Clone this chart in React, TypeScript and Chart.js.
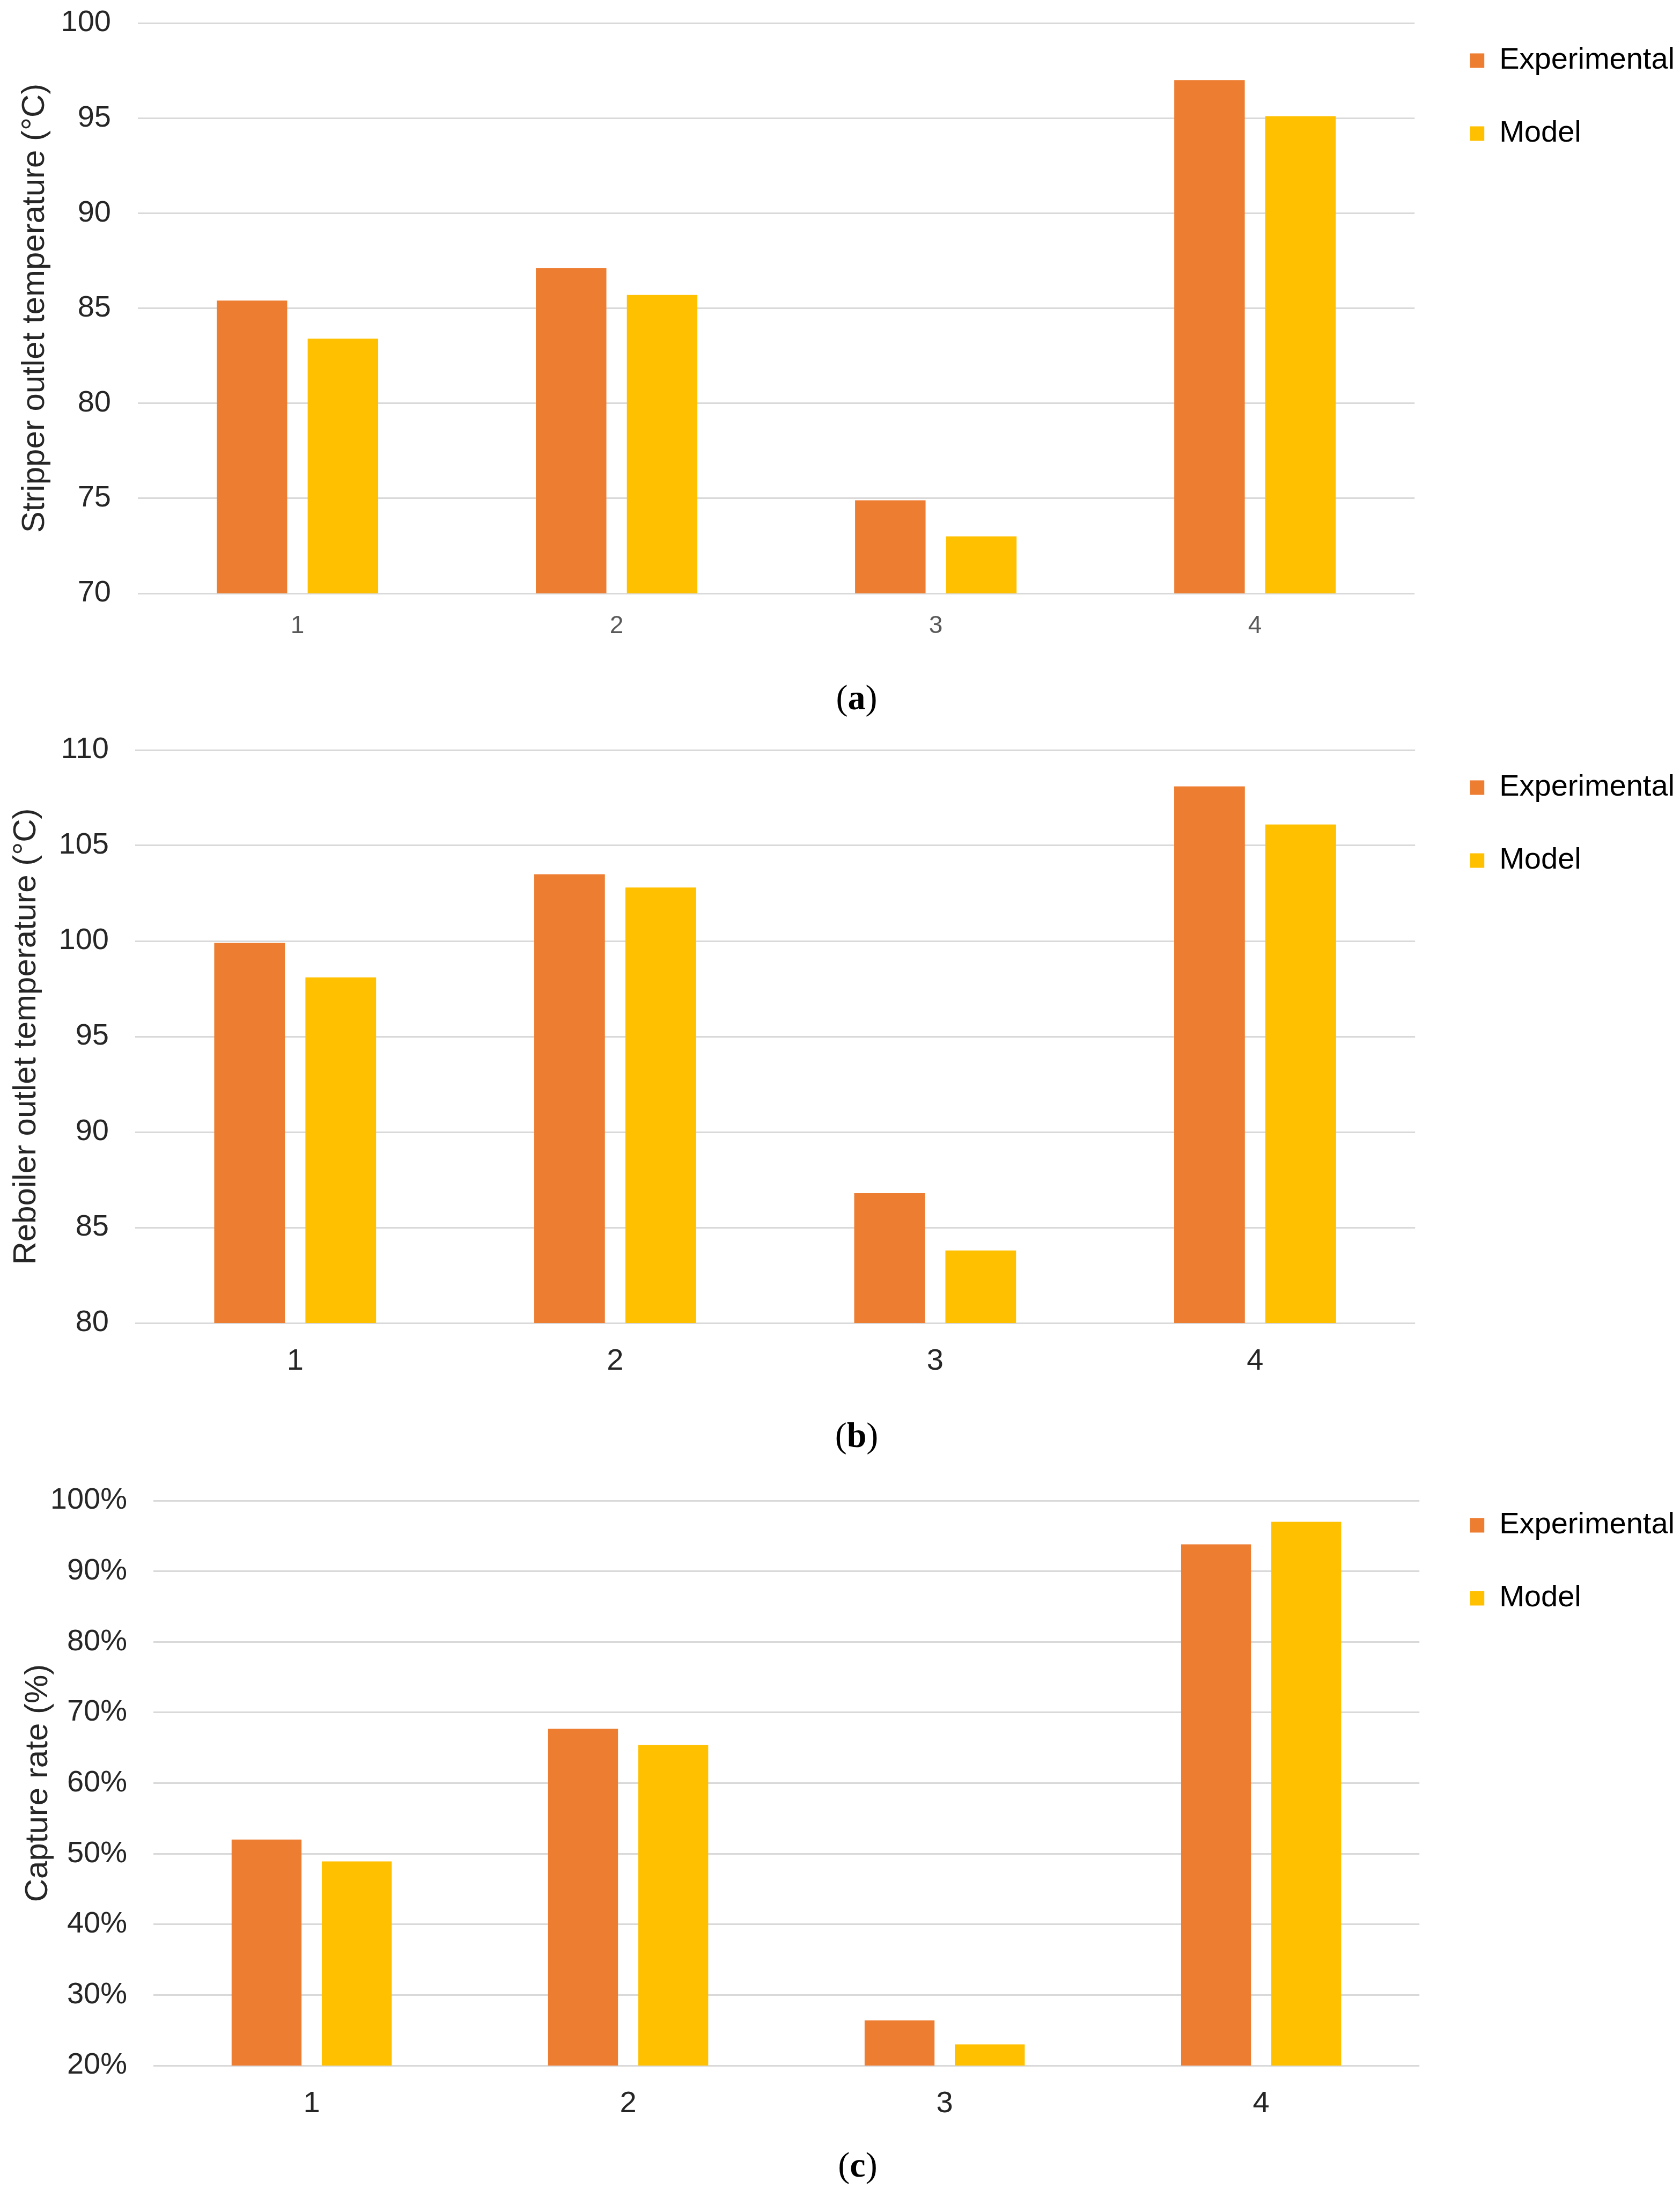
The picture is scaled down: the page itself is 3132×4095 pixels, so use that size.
import { useEffect, useRef } from "react"
import { Chart, registerables } from "chart.js"

Chart.register(...registerables)

const categories = ["1", "2", "3", "4"]
const seriesLabels = ["Experimental", "Model"]

// (a) stripper outlet temperature, °C
const stripperExperimental = [85.4, 87.1, 74.9, 97.0]
const stripperModel = [83.4, 85.7, 73.0, 95.1]

// (b) reboiler outlet temperature, °C
const reboilerExperimental = [99.9, 103.5, 86.8, 108.1]
const reboilerModel = [98.1, 102.8, 83.8, 106.1]

// (c) capture rate, %
const captureExperimental = [52.0, 67.7, 26.4, 93.8]
const captureModel = [48.9, 65.4, 23.0, 97.0]

const ORANGE = "#ED7D31"
const YELLOW = "#FFC000"
const FONT = '"Liberation Sans", Arial, sans-serif'

interface PanelProps {
  top: number
  height: number
  experimental: number[]
  model: number[]
  yTitle: string
  yMin: number
  yMax: number
  yStep: number
  suffix?: string
  axisWidth: number
  tickPad: number
  titlePad: number
  padTop: number
  titleGap: number
  xFont: number
  xColor: string
  xPad: number
  xHeight: number
  spacer: number
}

function Panel(p: PanelProps) {
  const canvasRef = useRef<HTMLCanvasElement>(null)
  const chartRef = useRef<Chart | null>(null)

  useEffect(() => {
    if (!canvasRef.current) return
    if (chartRef.current) chartRef.current.destroy()

    chartRef.current = new Chart(canvasRef.current, {
      type: "bar",
      data: {
        labels: categories,
        datasets: [
          { label: seriesLabels[0], data: p.experimental, backgroundColor: ORANGE, borderWidth: 0 },
          { label: seriesLabels[1], data: p.model, backgroundColor: YELLOW, borderWidth: 0 },
        ],
      },
      options: {
        responsive: true,
        maintainAspectRatio: false,
        animation: false,
        layout: { padding: { top: p.padTop, left: 0, right: 0, bottom: 0 } },
        datasets: { bar: { categoryPercentage: 0.57, barPercentage: 0.775 } },
        plugins: {
          tooltip: { enabled: false },
          // empty title only pushes the plot area below the legend start
          title: { display: true, text: "", padding: 0, font: { size: p.titleGap, lineHeight: 1 } },
          legend: {
            position: "right",
            align: "start",
            labels: {
              boxWidth: 27,
              boxHeight: 27,
              padding: 80,
              color: "#000",
              font: { family: FONT, size: 56 },
            },
          },
        },
        scales: {
          x: {
            grid: { display: false },
            border: { display: false },
            ticks: { color: p.xColor, padding: p.xPad, font: { family: FONT, size: p.xFont } },
            afterFit: (scale: any) => {
              scale.height = p.xHeight
            },
          },
          y: {
            min: p.yMin,
            max: p.yMax,
            border: { display: false },
            // invisible tick marks keep the labels away from the plot
            grid: {
              color: "#d9d9d9",
              lineWidth: 3,
              drawTicks: true,
              tickLength: p.tickPad,
              tickColor: "rgba(0,0,0,0)",
            },
            ticks: {
              stepSize: p.yStep,
              padding: 0,
              color: "#262626",
              font: { family: FONT, size: 56 },
              callback: (v: any) => v + (p.suffix || ""),
            },
            title: {
              display: true,
              text: p.yTitle,
              color: "#262626",
              padding: { top: p.titlePad, bottom: 0 },
              font: { family: FONT, size: 60 },
            },
            afterFit: (scale: any) => {
              scale.width = p.axisWidth
            },
          },
          gap: {
            type: "linear",
            position: "right",
            display: true,
            grid: { display: false },
            border: { display: false },
            ticks: { display: false },
            afterFit: (scale: any) => {
              scale.width = p.spacer
            },
          },
        },
      } as any,
    })

    return () => {
      if (chartRef.current) {
        chartRef.current.destroy()
        chartRef.current = null
      }
    }
  }, [])

  return (
    <div style={{ position: "absolute", left: 0, top: p.top, width: 3132, height: p.height }}>
      <canvas ref={canvasRef} />
    </div>
  )
}

function Caption({ x, y, letter }: { x: number; y: number; letter: string }) {
  return (
    <div
      style={{
        position: "absolute",
        left: x,
        top: y,
        transform: "translate(-50%, -50%)",
        fontFamily: '"Liberation Serif", "Times New Roman", serif',
        fontSize: 66,
        lineHeight: 1,
        color: "#000",
        whiteSpace: "nowrap",
      }}
    >
      (<b>{letter}</b>)
    </div>
  )
}

export default function App() {
  return (
    <div style={{ position: "absolute", left: 0, top: 0, width: 3132, height: 4095, background: "#fff" }}>
      <Panel
        top={0}
        height={1200}
        experimental={stripperExperimental}
        model={stripperModel}
        yTitle="Stripper outlet temperature (°C)"
        yMin={70}
        yMax={100}
        yStep={5}
        axisWidth={257}
        tickPad={50}
        titlePad={29}
        padTop={5}
        titleGap={38}
        xFont={46}
        xColor="#595959"
        xPad={26}
        xHeight={94}
        spacer={23}
      />
      <Panel
        top={1340}
        height={1226}
        experimental={reboilerExperimental}
        model={reboilerModel}
        yTitle="Reboiler outlet temperature (°C)"
        yMin={80}
        yMax={110}
        yStep={5}
        axisWidth={252}
        tickPad={49}
        titlePad={13}
        padTop={20}
        titleGap={38}
        xFont={56}
        xColor="#262626"
        xPad={30}
        xHeight={100}
        spacer={22}
      />
      <Panel
        top={2730}
        height={1220}
        experimental={captureExperimental}
        model={captureModel}
        yTitle="Capture rate (%)"
        yMin={20}
        yMax={100}
        yStep={10}
        suffix="%"
        axisWidth={286}
        tickPad={49}
        titlePad={35}
        padTop={5}
        titleGap={62}
        xFont={56}
        xColor="#262626"
        xPad={30}
        xHeight={100}
        spacer={14}
      />
      <Caption x={1597} y={1300} letter="a" />
      <Caption x={1597} y={2675} letter="b" />
      <Caption x={1599} y={4035} letter="c" />
    </div>
  )
}
